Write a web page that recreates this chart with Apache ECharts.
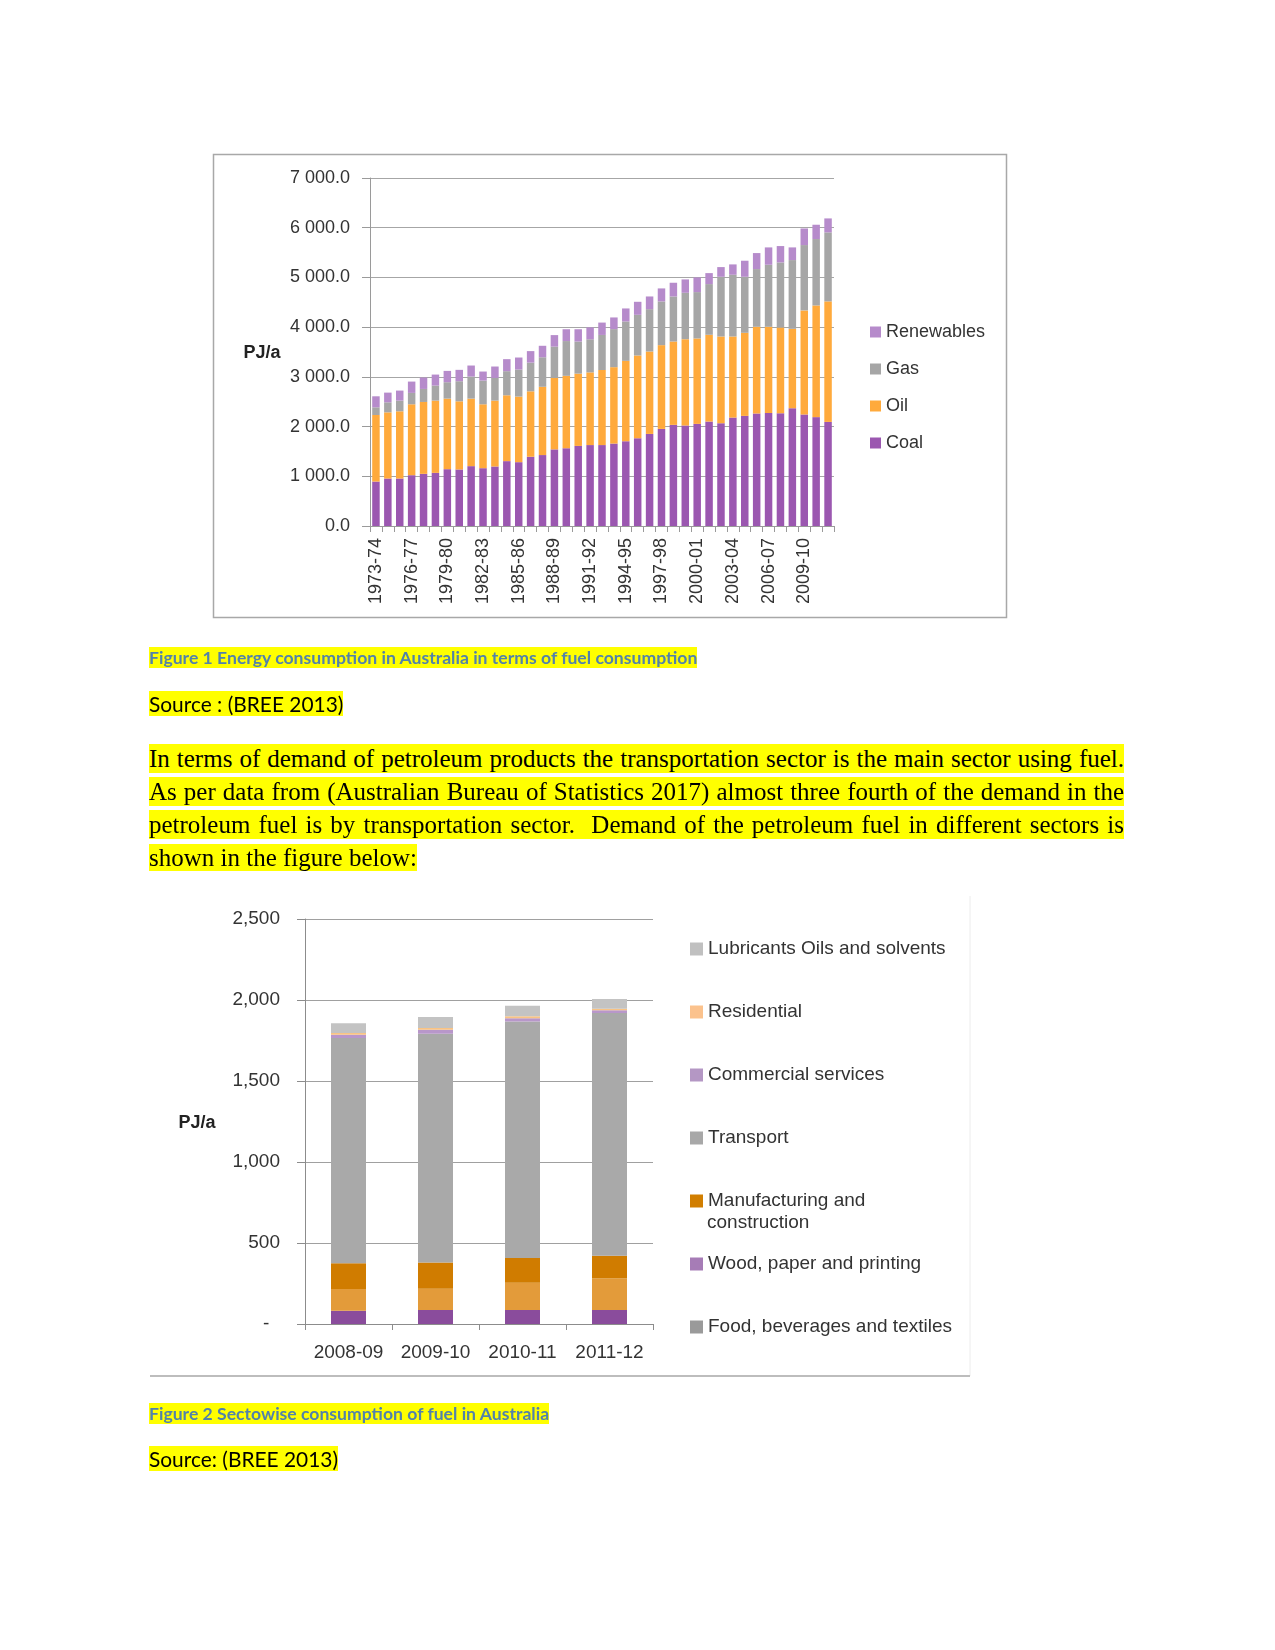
<!DOCTYPE html>
<html>
<head>
<meta charset="utf-8">
<script src="https://cdn.jsdelivr.net/npm/echarts@6/dist/echarts.min.js"></script>
<style>
  html, body { margin: 0; padding: 0; background: #fff; }
  #page { position: relative; width: 1275px; height: 1650px; overflow: hidden; }
  #chart { position: absolute; left: 0; top: 0; width: 1275px; height: 1650px; }
  .t { position: absolute; white-space: nowrap; }
  .hl { background: #ffff00; }
  .cap { font-family: Lato, 'Noto Sans', sans-serif; font-weight: bold; font-size: 17.6px; color: #5282aa; line-height: 21px; }
  .src { font-family: Lato, 'Noto Sans', sans-serif; font-size: 20.9px; color: #000; line-height: 26px; }
  .pl { position: absolute; left: 149px; width: 975px; font-family: 'Liberation Serif', 'Times New Roman', serif; font-size: 25px; color: #000; line-height: 29px; height: 29px; white-space: nowrap; }
  .pj { background: #ffff00; text-align: justify; text-align-last: justify; white-space: normal; }
</style>
</head>
<body>
<div id="page">
  <div id="chart"></div>
  <div class="t cap" style="left:149px; top:647px;"><span class="hl">Figure 1 Energy consumption in Australia in terms of fuel consumption</span></div>
  <div class="t src" style="left:149px; top:691px;"><span class="hl">Source : (BREE 2013)</span></div>
  <div class="pl pj" style="top:744px;">In terms of demand of petroleum products the transportation sector is the main sector using fuel.</div>
  <div class="pl pj" style="top:777px;">As per data from (Australian Bureau of Statistics 2017) almost three fourth of the demand in the</div>
  <div class="pl pj" style="top:810px;">petroleum fuel is by transportation sector.&nbsp; Demand of the petroleum fuel in different sectors is</div>
  <div class="pl" style="top:843px;"><span class="hl">shown in the figure below:</span></div>
  <div class="t cap" style="left:149px; top:1403px;"><span class="hl">Figure 2 Sectowise consumption of fuel in Australia</span></div>
  <div class="t src" style="left:149px; top:1446px;"><span class="hl">Source: (BREE 2013)</span></div>
</div>
<script>
// ---------- Figure 1 data (PJ/a) ----------
const years = ['1973-74','1974-75','1975-76','1976-77','1977-78','1978-79','1979-80','1980-81','1981-82','1982-83',
  '1983-84','1984-85','1985-86','1986-87','1987-88','1988-89','1989-90','1990-91','1991-92','1992-93',
  '1993-94','1994-95','1995-96','1996-97','1997-98','1998-99','1999-00','2000-01','2001-02','2002-03',
  '2003-04','2004-05','2005-06','2006-07','2007-08','2008-09','2009-10','2010-11','2011-12'];
const coal = [894,955,955,1022,1049,1069,1143,1137,1204,1163,1197,1305,1284,1393,1427,1541,1564,1611,1628,1628,
  1658,1705,1765,1852,1953,2034,2020,2054,2101,2067,2181,2215,2262,2275,2268,2369,2245,2190,2094];
const oil = [1339,1331,1352,1426,1446,1453,1419,1371,1358,1285,1325,1324,1319,1316,1373,1437,1457,1454,1462,1510,
  1537,1617,1665,1658,1685,1677,1738,1718,1745,1745,1631,1671,1745,1732,1725,1597,2092,2246,2424];
const gas = [154,202,215,229,262,302,330,404,444,477,457,485,544,577,594,630,699,645,666,705,
  765,792,818,852,879,906,933,933,1020,1201,1242,1127,1161,1248,1309,1383,1314,1336,1388];
const renewables = [222,195,202,228,229,222,228,229,222,182,229,242,242,232,231,232,238,248,239,249,
  235,262,262,255,262,276,269,295,221,195,208,323,322,349,329,255,334,288,281];
const fig1Ticks = [0,1000,2000,3000,4000,5000,6000,7000];

// ---------- Figure 2 data (PJ/a) ----------
const periods = ['2008-09','2009-10','2010-11','2011-12'];
const food = [82,86,86,86];
const wood = [134,132,169,196];
const manufacturing = [159,161,153,140];
const transport = [1390,1413,1460,1497];
const commercial = [20,24,20,17];
const residential = [11,11,11,10];
const lubricants = [61,68,66,60];

const FONT = "'Liberation Sans', Arial, sans-serif";
const TXT = '#333333';

function fmt1(v) {
  if (v >= 1000) {
    const th = Math.floor(v / 1000), r = v % 1000;
    return th + ' ' + String(r).padStart(3, '0') + '.0';
  }
  return v + '.0';
}
function fmt2(v) {
  if (v === 0) return '-\u00a0\u00a0';
  const th = Math.floor(v / 1000), r = v % 1000;
  return th > 0 ? th + ',' + String(r).padStart(3, '0') : String(r);
}

const chart = echarts.init(document.getElementById('chart'), null, { renderer: 'canvas' });

const bar1 = (name, data, color) => ({
  name, type: 'bar', stack: 'f1', data, xAxisIndex: 0, yAxisIndex: 0,
  barWidth: '63%', itemStyle: { color }, emphasis: { disabled: true }, animation: false
});
const bar2 = (name, data, color) => ({
  name, type: 'bar', stack: 'f2', data, xAxisIndex: 1, yAxisIndex: 1,
  barWidth: 35, itemStyle: { color }, emphasis: { disabled: true }, animation: false
});

const option = {
  animation: false,
  textStyle: { fontFamily: FONT },
  grid: [
    { left: 370, top: 178, width: 464, height: 348 },
    { left: 305, top: 919, width: 348, height: 405 }
  ],
  xAxis: [
    { type: 'category', gridIndex: 0, data: years,
      axisLine: { lineStyle: { color: '#9a9a9a', width: 1 } },
      axisTick: { show: true, interval: 0, length: 6, lineStyle: { color: '#9a9a9a' } },
      axisLabel: { interval: 2, rotate: 90, margin: 12, fontSize: 18, color: TXT, fontFamily: FONT } },
    { type: 'category', gridIndex: 1, data: periods,
      axisLine: { lineStyle: { color: '#8c8c8c', width: 1 } },
      axisTick: { show: true, interval: 0, length: 6, lineStyle: { color: '#8c8c8c' } },
      axisLabel: { interval: 0, hideOverlap: false, margin: 19, fontSize: 19, color: TXT, fontFamily: FONT } }
  ],
  yAxis: [
    { type: 'value', gridIndex: 0, min: 0, max: 7000, interval: 1000,
      axisLine: { show: true, lineStyle: { color: '#9a9a9a' } },
      axisTick: { show: true, length: 8, lineStyle: { color: '#9a9a9a' } },
      splitLine: { lineStyle: { color: '#a6a6a6', width: 1 } },
      axisLabel: { margin: 20, fontSize: 18, color: TXT, fontFamily: FONT, formatter: fmt1 } },
    { type: 'value', gridIndex: 1, min: 0, max: 2500, interval: 500,
      axisLine: { show: true, lineStyle: { color: '#8c8c8c' } },
      axisTick: { show: true, length: 8, lineStyle: { color: '#8c8c8c' } },
      splitLine: { lineStyle: { color: '#a0a0a0', width: 1 } },
      axisLabel: { margin: 25, fontSize: 19, color: TXT, fontFamily: FONT, formatter: fmt2 } }
  ],
  legend: [
    { orient: 'vertical', left: 865, top: 317, itemWidth: 11, itemHeight: 11, itemGap: 17,
      icon: 'rect', selectedMode: false,
      textStyle: { fontSize: 18, color: TXT, fontFamily: FONT, lineHeight: 20 },
      data: ['Renewables', 'Gas', 'Oil', 'Coal'] },
    { orient: 'vertical', left: 685, top: 934, itemWidth: 13, itemHeight: 13, itemGap: 43,
      icon: 'rect', selectedMode: false,
      textStyle: { fontSize: 19, color: TXT, fontFamily: FONT, lineHeight: 20 },
      formatter: n => n === 'Manufacturing and construction' ? 'Manufacturing and' : n,
      data: [
        { name: 'Lubricants Oils and solvents', itemStyle: { color: '#c0c0c0' } },
        { name: 'Residential', itemStyle: { color: '#fbc28d' } },
        { name: 'Commercial services', itemStyle: { color: '#b497c4' } },
        { name: 'Transport', itemStyle: { color: '#a8a8a8' } },
        { name: 'Manufacturing and construction', itemStyle: { color: '#d17e00' } },
        { name: 'Wood, paper and printing', itemStyle: { color: '#a67cb6' } },
        { name: 'Food, beverages and textiles', itemStyle: { color: '#9a9a9a' } }
      ] }
  ],
  series: [
    bar1('Coal', coal, '#9b57b0'),
    bar1('Oil', oil, '#ffaa3c'),
    bar1('Gas', gas, '#a6a6a6'),
    bar1('Renewables', renewables, '#b68bcb'),
    bar2('Food, beverages and textiles', food, '#8a4c9c'),
    bar2('Wood, paper and printing', wood, '#e39b3a'),
    bar2('Manufacturing and construction', manufacturing, '#d07c00'),
    bar2('Transport', transport, '#a9a9a9'),
    bar2('Commercial services', commercial, '#b897ca'),
    bar2('Residential', residential, '#f8c384'),
    bar2('Lubricants Oils and solvents', lubricants, '#c3c3c3')
  ],
  graphic: [
    { type: 'rect', silent: true, shape: { x: 213.5, y: 154.5, width: 793, height: 463 },
      style: { fill: 'none', stroke: '#a8a8a8', lineWidth: 1.5 } },
    { type: 'text', silent: true, x: 262, y: 353,
      style: { text: 'PJ/a', font: "bold 18px 'Liberation Sans', Arial, sans-serif", fill: '#222', align: 'center', verticalAlign: 'middle' } },
    { type: 'text', silent: true, x: 197, y: 1123,
      style: { text: 'PJ/a', font: "bold 18px 'Liberation Sans', Arial, sans-serif", fill: '#222', align: 'center', verticalAlign: 'middle' } },
    { type: 'text', silent: true, x: 707, y: 1223,
      style: { text: 'construction', font: "19px 'Liberation Sans', Arial, sans-serif", fill: TXT, align: 'left', verticalAlign: 'middle' } },
    { type: 'line', silent: true, shape: { x1: 970, y1: 896, x2: 970, y2: 1376 },
      style: { stroke: '#ececec', lineWidth: 1 } },
    { type: 'line', silent: true, shape: { x1: 150, y1: 1376, x2: 970, y2: 1376 },
      style: { stroke: '#bdbdbd', lineWidth: 2 } }
  ]
};
chart.setOption(option);
</script>
</body>
</html>
